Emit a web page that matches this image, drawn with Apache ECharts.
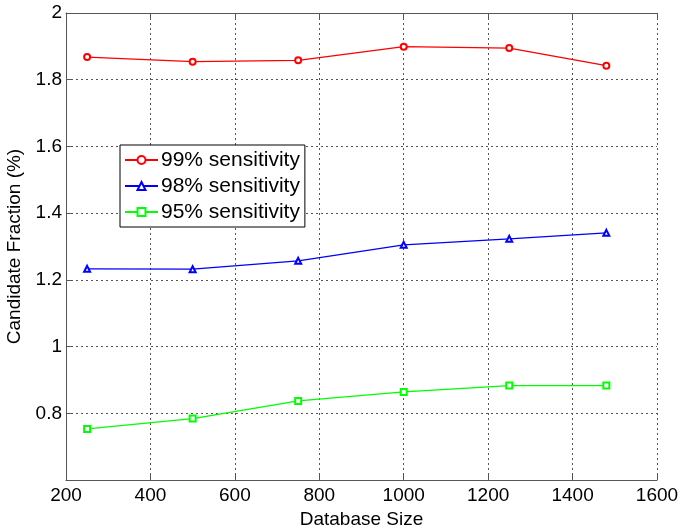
<!DOCTYPE html>
<html>
<head>
<meta charset="utf-8">
<script src="https://cdn.jsdelivr.net/npm/echarts@6/dist/echarts.min.js"></script>
<style>
html,body{margin:0;padding:0;background:#fff;}
#chart{width:686px;height:531px;}
</style>
</head>
<body>
<div id="chart"></div>
<script>
const xValues = [250, 500, 750, 1000, 1250, 1480];
const s99 = [1.868, 1.854, 1.858, 1.899, 1.895, 1.842];
const s98 = [1.233, 1.232, 1.257, 1.305, 1.323, 1.341];
const s95 = [0.753, 0.784, 0.837, 0.864, 0.883, 0.883];
const seriesNames = ['99% sensitivity', '98% sensitivity', '95% sensitivity'];
const xTicks = [200, 400, 600, 800, 1000, 1200, 1400, 1600];
const yTicks = [0.6, 0.8, 1, 1.2, 1.4, 1.6, 1.8, 2];

const pair = v => xValues.map((x, i) => [x, v[i]]);
const font = 'Arial, "Liberation Sans", sans-serif';

const chart = echarts.init(document.getElementById('chart'));
const mk = (name, data, color, symbol, size) => ({
  name: name, type: 'line', data: pair(data),
  symbol: symbol, symbolSize: size,
  lineStyle: {color: color, width: 1.3},
  itemStyle: {color: color, borderColor: color, borderWidth: 1.3},
  emphasis: {disabled: true},
  animation: false
});
chart.setOption({
  animation: false,
  textStyle: {fontFamily: font},
  grid: {left: 66, right: 29, top: 13, bottom: 51, containLabel: false, outerBoundsMode: 'none'},
  legend: {
    orient: 'vertical', left: 120, top: 145,
    data: seriesNames,
    itemWidth: 33, itemHeight: 10, itemGap: 4,
    padding: [4, 5, 4, 4],
    borderColor: '#000', borderWidth: 1, backgroundColor: '#fff',
    textStyle: {fontSize: 21, color: '#000', fontFamily: font, lineHeight: 22, padding: [0, 0, 0, -2]}
  },
  xAxis: [{
    type: 'value', min: 200, max: 1600, interval: 200,
    name: 'Database Size', nameLocation: 'middle', nameGap: 30,
    nameTextStyle: {fontSize: 19, color: '#000', fontFamily: font},
    axisLine: {show: true, onZero: false, lineStyle: {color: '#555', width: 1}},
    axisTick: {show: true, inside: true, length: 5, lineStyle: {color: '#555'}},
    axisLabel: {fontSize: 19, color: '#000', margin: 6, fontFamily: font,
      formatter: v => xTicks.includes(v) ? String(v) : ''},
    splitLine: {show: true, lineStyle: {color: '#555', type: [2, 3], width: 1}}
  }, {
    type: 'value', min: 200, max: 1600, interval: 200, position: 'top',
    axisLine: {show: true, lineStyle: {color: '#555', width: 1}},
    axisTick: {show: true, inside: true, length: 5, lineStyle: {color: '#555'}},
    axisLabel: {show: false}, splitLine: {show: false}
  }],
  yAxis: [{
    type: 'value', min: 0.6, max: 2, interval: 0.2,
    name: 'Candidate Fraction (%)', nameLocation: 'middle', nameGap: 41, nameRotate: 90,
    nameTextStyle: {fontSize: 19, color: '#000', fontFamily: font},
    axisLine: {show: true, onZero: false, lineStyle: {color: '#555', width: 1}},
    axisTick: {show: true, inside: true, length: 5, lineStyle: {color: '#555'}},
    axisLabel: {fontSize: 19, color: '#000', margin: 4, fontFamily: font, showMinLabel: false,
      formatter: v => { const t = yTicks.find(y => Math.abs(y - v) < 1e-6); return t === undefined ? '' : String(t); }},
    splitLine: {show: true, lineStyle: {color: '#555', type: [2, 3], width: 1}}
  }],
  series: [
    mk(seriesNames[0], s99, '#ff0000', 'emptyCircle', 6),
    mk(seriesNames[1], s98, '#0000ff', 'emptyTriangle', 6),
    mk(seriesNames[2], s95, '#00ff00', 'emptyRect', 6)
  ]
});
</script>
</body>
</html>
